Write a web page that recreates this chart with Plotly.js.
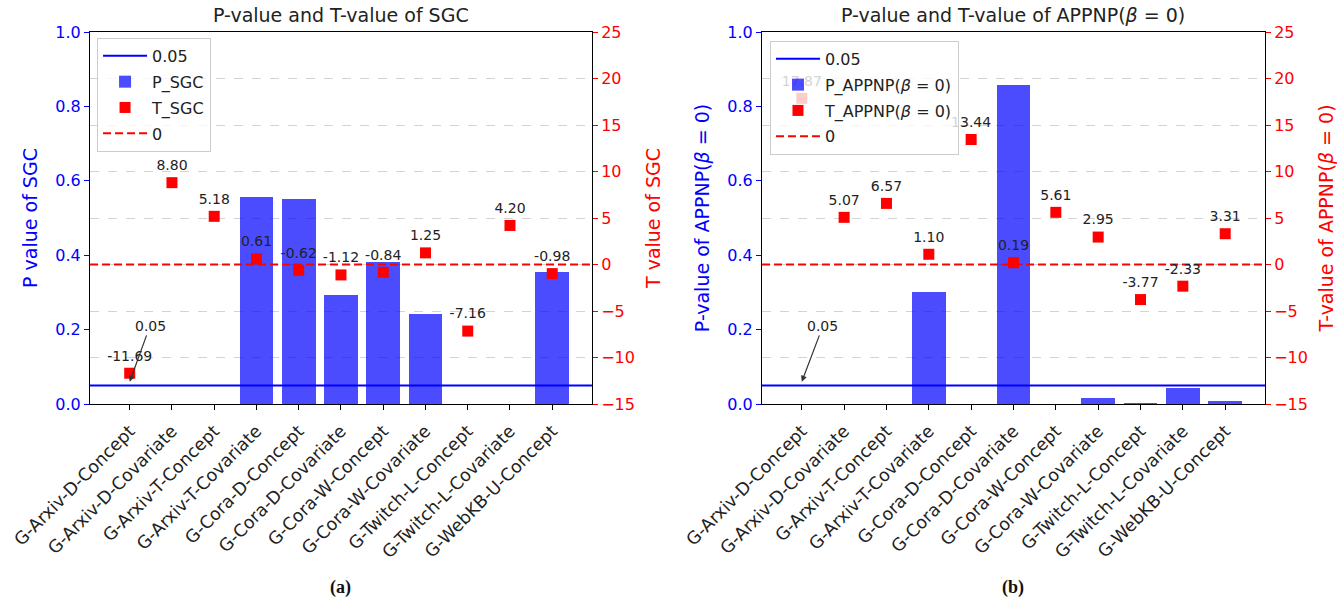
<!DOCTYPE html>
<html>
<head>
<meta charset="utf-8">
<script src="https://cdn.plot.ly/plotly-3.0.1.min.js"></script>
<style>html,body{margin:0;padding:0;background:#fff;}#chart{width:1337px;height:600px;}</style>
</head>
<body>
<div id="chart"></div>
<script>
// ---- data ----
const categories = ["G-Arxiv-D-Concept","G-Arxiv-D-Covariate","G-Arxiv-T-Concept","G-Arxiv-T-Covariate","G-Cora-D-Concept","G-Cora-D-Covariate","G-Cora-W-Concept","G-Cora-W-Covariate","G-Twitch-L-Concept","G-Twitch-L-Covariate","G-WebKB-U-Concept"];
const pSGC = [0, 0, 0, 0.556, 0.551, 0.292, 0.383, 0.243, 0, 0, 0.354];
const tSGC = [-11.69, 8.80, 5.18, 0.61, -0.62, -1.12, -0.84, 1.25, -7.16, 4.20, -0.98];
const pAPPNP = [0, 0, 0, 0.301, 0, 0.858, 0, 0.017, 0.003, 0.044, 0.008];
const tAPPNP = [17.87, 5.07, 6.57, 1.10, 13.44, 0.19, 5.61, 2.95, -3.77, -2.33, 3.31];
const pThreshold = 0.05;
const tZero = 0;
const pTicks = [0, 0.2, 0.4, 0.6, 0.8, 1.0];
const tTicks = [-15, -10, -5, 0, 5, 10, 15, 20, 25];

// ---- helpers ----
const idx = categories.map((c, i) => i);
const n = categories.length;
const pad = 0.05 * (n - 1 + 0.8);
const xRange = [-0.4 - pad, n - 1 + 0.4 + pad];
const FONT = "DejaVu Sans";
const BLUE = "#0000ff";
const RED = "#ff0000";

function makeTraces(pVals, tVals, pName, tName, xa, ya, ya2, leg) {
  return [
    {type: "bar", x: idx, y: pVals, width: 0.8, name: pName, xaxis: xa, yaxis: ya, legendgroup: leg + "p",
     marker: {color: "rgba(0,0,255,0.7)", line: {width: 0}}, legend: leg, legendrank: 2, hoverinfo: "skip"},
    {type: "scatter", mode: "lines", x: xRange, y: [pThreshold, pThreshold], name: String(pThreshold), legendgroup: leg + "thr",
     xaxis: xa, yaxis: ya, line: {color: BLUE, width: 2}, legend: leg, legendrank: 1, hoverinfo: "skip"},
    {type: "scatter", mode: "lines", x: xRange, y: [tZero, tZero], name: String(tZero), legendgroup: leg + "zero",
     xaxis: xa, yaxis: ya2, line: {color: RED, width: 2, dash: "8px,4px"}, legend: leg, legendrank: 4, hoverinfo: "skip"},
    {type: "scatter", mode: "markers", x: idx, y: tVals, name: tName, xaxis: xa, yaxis: ya2, legendgroup: leg + "t",
     marker: {symbol: "square", color: RED, size: 11, line: {width: 0}}, legend: leg, legendrank: 3, hoverinfo: "skip"},
    {type: "scatter", mode: "markers+text", x: idx, y: tVals, text: tVals.map(v => v.toFixed(2)),
     textposition: "top center", textfont: {family: FONT, size: 14, color: "#222"},
     marker: {size: 13, color: "rgba(0,0,0,0)"}, xaxis: xa, yaxis: ya2, showlegend: false, hoverinfo: "skip"}
  ];
}

const data = [].concat(
  makeTraces(pSGC, tSGC, "P_SGC", "T_SGC", "x", "y", "y2", "legend"),
  makeTraces(pAPPNP, tAPPNP, "P_APPNP(<i>β</i> = 0)", "T_APPNP(<i>β</i> = 0)", "x2", "y3", "y4", "legend2")
);

function xAxis(domain, anchor) {
  return {domain: domain, anchor: anchor, range: xRange, tickvals: idx, ticktext: categories, tickangle: -45,
    ticks: "outside", ticklen: 5, tickcolor: "#000", showline: true, linecolor: "#000", linewidth: 1, mirror: true,
    ticklabelstandoff: 4,
    showgrid: false, zeroline: false, tickfont: {family: FONT, size: 17.5, color: "#222"}};
}
function pAxis(anchor, title) {
  return {anchor: anchor, range: [0, 1], tickvals: pTicks, tickformat: ".1f", ticks: "outside", ticklen: 5,
    tickcolor: BLUE, tickfont: {family: FONT, size: 16, color: BLUE}, showline: true, linecolor: "#000",
    showgrid: false, zeroline: false, title: {text: title, font: {family: FONT, size: 19, color: BLUE}, standoff: 12}};
}
function tAxis(anchor, over, title) {
  return {anchor: anchor, overlaying: over, side: "right", range: [-15, 25], tickvals: tTicks, ticks: "outside",
    ticklen: 5, tickcolor: RED, tickfont: {family: FONT, size: 16, color: RED}, showline: true, linecolor: "#000",
    showgrid: true, gridcolor: "#d3d3d3", griddash: "dash", gridwidth: 1, zeroline: false,
    title: {text: title, font: {family: FONT, size: 19, color: RED}, standoff: 12}};
}

const legendStyle = {bgcolor: "rgba(255,255,255,0.8)", bordercolor: "#cccccc", borderwidth: 1,
  font: {family: FONT, size: 16, color: "#222"}, xanchor: "left", yanchor: "top", traceorder: "grouped",
  tracegroupgap: 2, itemwidth: 44};

const layout = {
  width: 1337, height: 600,
  margin: {l: 90, r: 72, t: 32, b: 196},
  paper_bgcolor: "#fff", plot_bgcolor: "#fff",
  font: {family: FONT, color: "#222"},
  showlegend: true,
  bargap: 0,
  xaxis: xAxis([0, 0.4272], "y"),
  yaxis: pAxis("x", "P value of SGC"),
  yaxis2: tAxis("x", "y", "T value of SGC"),
  xaxis2: xAxis([0.5719, 1], "y3"),
  yaxis3: pAxis("x2", "P-value of APPNP(<i>β</i> = 0)"),
  yaxis4: tAxis("x2", "y3", "T-value of APPNP(<i>β</i> = 0)"),
  legend: Object.assign({x: 0.006, y: 0.984}, legendStyle),
  legend2: Object.assign({x: 0.5787, y: 0.976}, legendStyle),
  annotations: [
    {text: "P-value and T-value of SGC", xref: "x domain", x: 0.5, yref: "paper", y: 1, yanchor: "bottom", yshift: 4,
     showarrow: false, font: {family: FONT, size: 19, color: "#222"}},
    {text: "P-value and T-value of APPNP(<i>β</i> = 0)", xref: "x2 domain", x: 0.5, yref: "paper", y: 1, yanchor: "bottom", yshift: 4,
     showarrow: false, font: {family: FONT, size: 19, color: "#222"}},
    {text: String(pThreshold), xref: "x", yref: "y", x: 0, y: 0.06, axref: "x", ayref: "y", ax: 0.48, ay: 0.21,
     showarrow: true, arrowhead: 2, arrowsize: 1, arrowwidth: 1.2, arrowcolor: "#333", font: {family: FONT, size: 14, color: "#222"}},
    {text: String(pThreshold), xref: "x2", yref: "y3", x: 0, y: 0.06, axref: "x2", ayref: "y3", ax: 0.5, ay: 0.21,
     showarrow: true, arrowhead: 2, arrowsize: 1, arrowwidth: 1.2, arrowcolor: "#333", font: {family: FONT, size: 14, color: "#222"}},
    {text: "<b>(a)</b>", xref: "x domain", x: 0.5, yref: "paper", y: -0.4946, yanchor: "middle", showarrow: false,
     font: {family: "Liberation Serif", size: 18, color: "#111"}},
    {text: "<b>(b)</b>", xref: "x2 domain", x: 0.5, yref: "paper", y: -0.4946, yanchor: "middle", showarrow: false,
     font: {family: "Liberation Serif", size: 18, color: "#111"}}
  ]
};

Plotly.newPlot("chart", data, layout, {displayModeBar: false, staticPlot: true});
</script>
</body>
</html>
